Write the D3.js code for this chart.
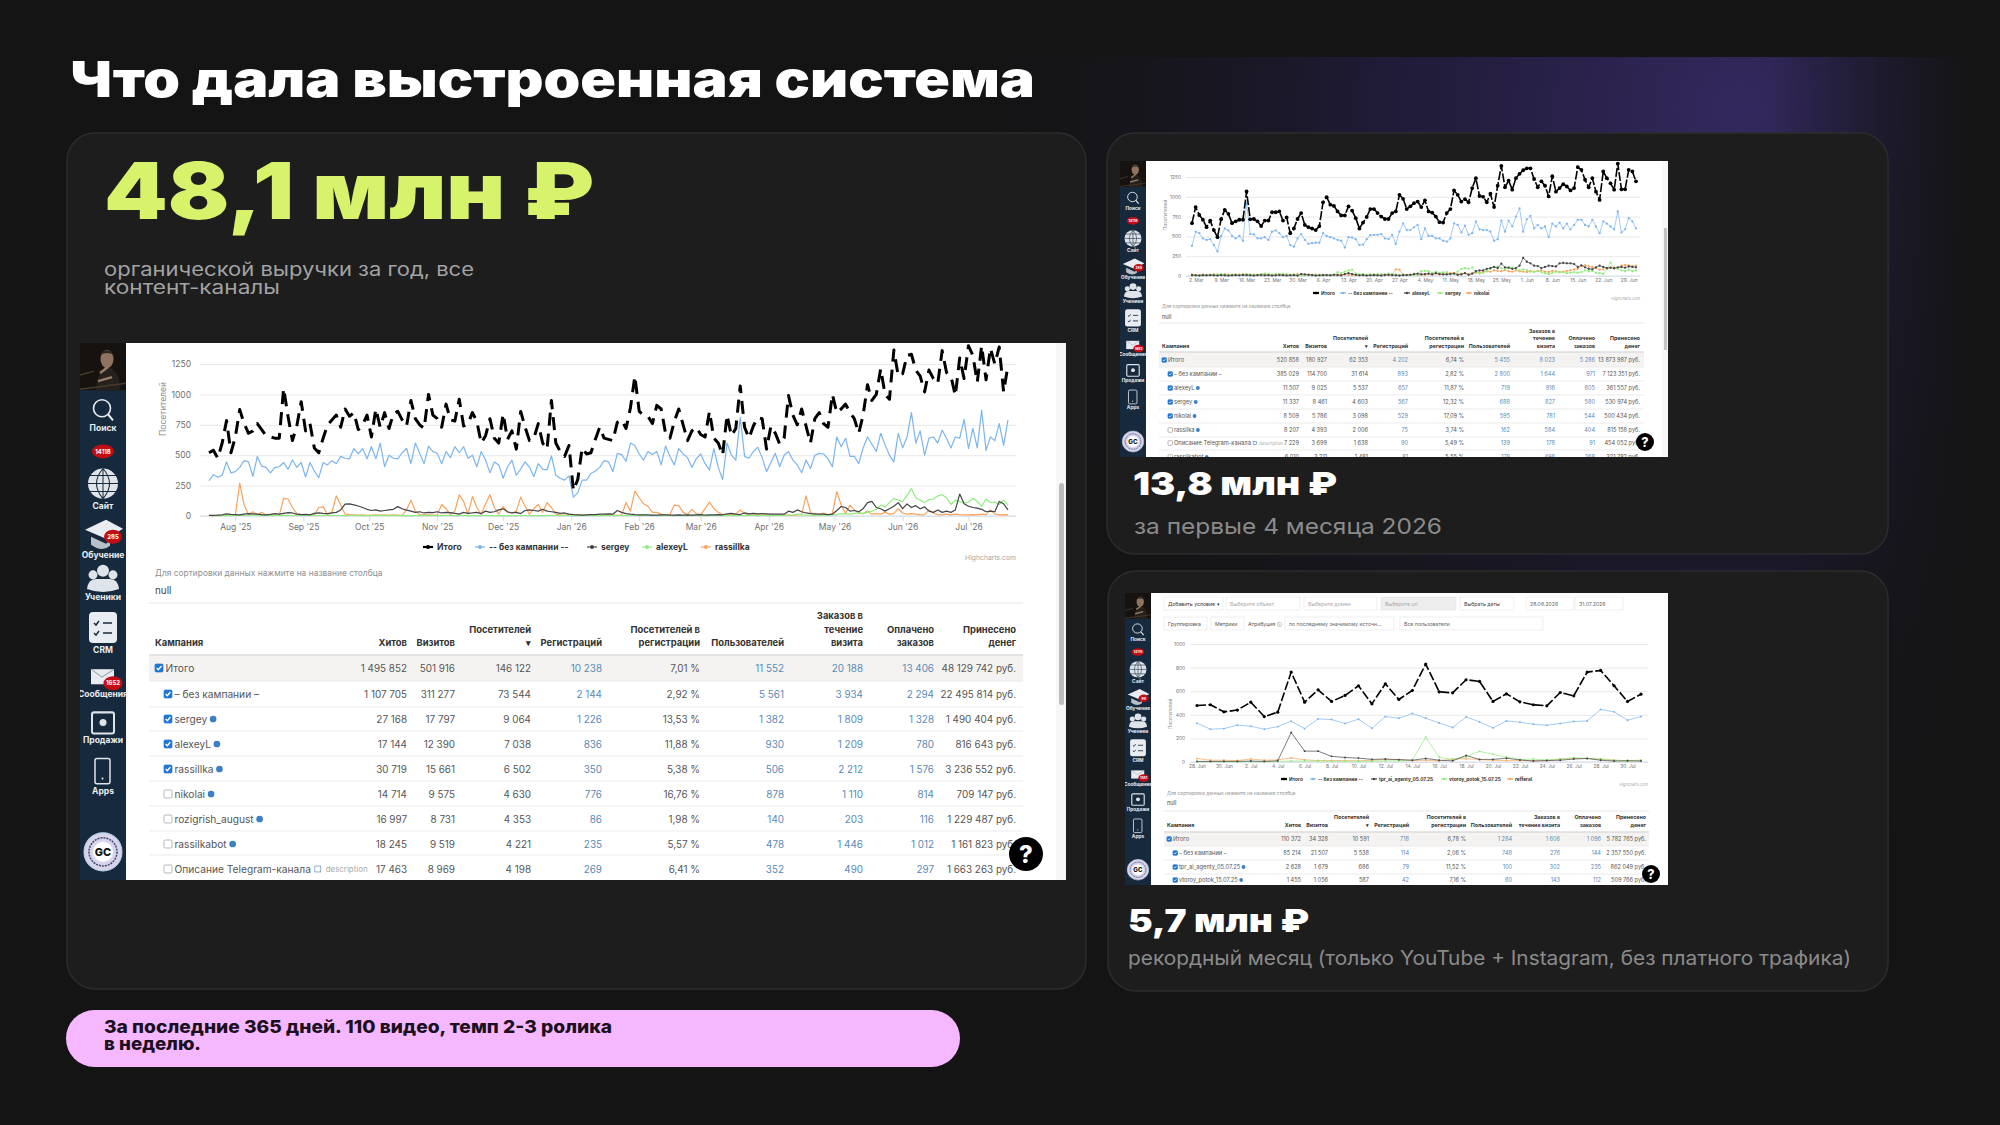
<!DOCTYPE html>
<html>
<head>
<meta charset="utf-8">
<script src="https://cdnjs.cloudflare.com/ajax/libs/d3/7.8.5/d3.min.js"></script>
<style>
html, body { margin: 0; padding: 0; background: #141415; }
svg { display: block; }
text { font-family: Inter, "Noto Sans", sans-serif; }
</style>
</head>
<body>
<svg id="slide" width="2000" height="1125"></svg>
<script>
// year chart, one value per two days from 20 Jul 2025
const yearTicks = ["2025-08-01","2025-09-01","2025-10-01","2025-11-01","2025-12-01","2026-01-01","2026-02-01","2026-03-01","2026-04-01","2026-05-01","2026-06-01","2026-07-01"];
const yearNames = ["Итого","-- без кампании --","sergey","alexeyL","rassillka"];
const yearTotal = [
  520,540,475,600,785,520,650,875,760,680,
  700,760,710,660,650,640,640,1050,820,620,
  740,940,700,760,560,520,640,750,790,830,
  730,880,820,850,710,750,830,650,880,730,
  850,720,840,860,790,740,950,800,750,720,
  1000,830,800,730,920,790,780,960,740,760,
  850,780,600,660,800,640,600,840,630,700,
  550,860,730,620,640,760,600,550,950,600,
  530,490,580,210,300,560,510,520,630,730,
  640,630,620,770,790,720,890,1150,860,830,
  820,760,910,880,680,640,780,880,750,620,
  700,730,670,650,860,640,600,500,830,660,
  720,1070,730,640,740,810,800,550,740,680,
  590,640,990,830,750,880,740,600,800,850,
  760,730,1000,850,880,920,850,800,680,830,
  1080,950,1000,1210,1000,960,1365,1150,1170,1320,
  1330,1200,1150,1020,1200,1130,1090,1360,1180,1150,
  990,1300,1130,1400,1320,1100,1400,1120,1380,1250,
  1390,1020,1240];
const yearOrganic = [
  290,340,318,335,445,355,365,400,455,445,
  325,490,410,400,355,400,405,440,385,460,
  400,440,320,440,370,315,440,420,455,430,
  490,475,470,555,510,555,470,570,470,600,
  405,500,475,470,520,555,430,600,515,430,
  575,530,515,430,530,480,570,520,570,475,
  500,405,530,460,355,445,420,310,405,460,
  335,385,445,400,325,430,385,380,495,335,
  310,295,330,155,190,295,295,350,370,400,
  455,445,365,515,505,450,600,580,510,460,
  530,505,530,420,575,490,420,555,510,480,
  400,470,510,430,380,555,400,300,600,500,
  460,810,490,475,530,565,480,365,440,515,
  405,500,530,460,420,355,460,390,500,515,
  510,470,405,650,570,640,490,490,430,560,
  650,590,530,680,585,500,445,680,560,650,
  850,600,700,500,640,650,600,705,640,560,
  650,640,795,555,720,560,870,540,650,620,
  760,580,790];
const yearSergey = [
  5,5,8,10,18,14,12,10,15,20,
  18,15,12,10,14,20,15,22,28,25,
  15,12,14,10,22,25,22,20,25,30,
  50,98,100,92,82,70,55,45,50,40,
  45,50,55,77,60,48,40,30,35,25,
  30,28,35,25,30,28,22,15,30,22,
  25,30,20,40,30,35,50,60,35,25,
  30,20,45,50,45,40,55,40,35,30,
  22,25,15,12,10,8,10,12,12,15,
  15,18,15,45,30,20,15,12,10,10,
  10,8,8,10,10,8,8,10,8,10,
  8,10,12,8,10,10,12,10,18,22,
  15,12,25,18,22,18,20,18,16,15,
  15,15,40,30,50,35,25,20,18,15,
  15,12,15,45,78,70,40,45,35,60,
  110,120,70,60,40,60,80,110,60,100,
  70,85,60,75,40,30,50,30,40,30,
  50,180,100,80,70,65,55,35,40,35,
  120,100,50];
const yearAlexey = [
  2,2,3,3,4,3,5,4,5,6,
  8,6,5,4,5,4,5,6,5,4,
  6,5,4,6,5,4,5,6,5,4,
  4,3,4,5,4,3,4,3,4,5,
  4,3,4,5,3,4,3,4,5,3,
  4,3,4,3,5,4,3,4,5,3,
  4,3,4,5,3,4,3,4,3,4,
  3,4,5,3,4,3,4,3,5,4,
  3,4,5,3,4,3,4,5,3,4,
  3,4,5,3,4,6,5,4,5,6,
  4,5,4,3,5,4,3,5,4,3,
  4,5,3,4,3,4,5,3,4,3,
  5,4,3,5,4,3,4,5,3,4,
  5,4,6,8,15,12,8,6,5,6,
  8,6,10,12,20,18,15,22,25,20,
  30,40,55,90,75,110,145,130,118,170,
  225,150,130,110,135,140,165,175,150,95,
  130,120,105,115,145,120,80,140,110,115,
  95,130,90];
const yearMailing = [
  5,3,5,8,5,5,10,270,90,10,
  35,10,30,8,10,8,6,145,140,70,
  20,12,12,10,10,70,75,12,30,165,
  90,15,12,10,8,10,6,8,10,8,
  10,8,10,8,6,50,130,40,12,10,
  10,8,8,95,60,10,40,175,120,15,
  160,70,12,100,175,70,15,80,30,25,
  40,155,80,15,60,95,30,110,70,15,
  10,8,10,12,10,8,6,5,8,8,
  8,10,8,6,10,110,40,205,150,100,
  80,30,30,15,10,12,90,85,30,12,
  55,20,10,60,115,60,30,12,10,12,
  15,50,20,10,8,10,8,10,8,6,
  8,6,8,6,10,12,165,30,10,8,
  25,10,20,200,90,20,90,50,25,20,
  40,15,20,15,30,15,20,60,25,15,
  20,15,10,12,50,25,10,12,15,10,
  15,12,10,10,12,10,15,12,50,15,
  10,12,10];

// four months chart, daily from 1 Mar 2026
const springTicks = ["2026-03-02","2026-03-09","2026-03-16","2026-03-23","2026-03-30","2026-04-06","2026-04-13","2026-04-20","2026-04-27","2026-05-04","2026-05-11","2026-05-18","2026-05-25","2026-06-01","2026-06-08","2026-06-15","2026-06-22","2026-06-29"];
const springNames = ["Итого","-- без кампании --","alexeyL","sergey","nikolai"];
const springTotal = [
  667,870,770,710,616,700,580,490,717,835,
  785,667,690,710,710,1067,715,720,690,630,
  700,700,805,805,815,700,740,540,600,720,
  795,645,616,600,580,630,930,995,900,885,
  815,765,765,880,825,730,600,675,745,845,
  845,795,750,720,720,795,815,1025,975,845,
  880,920,940,870,955,815,800,750,680,675,
  795,845,1080,1025,940,970,930,1110,1235,1010,
  1000,930,1040,870,1140,1390,1120,1205,1090,1235,
  1290,1335,1360,1360,1225,1120,1195,1140,1005,1260,
  1065,1110,1160,1130,1080,1110,1375,1340,1215,1120,
  1235,1065,960,1320,1235,1170,1090,1420,1095,1095,
  1340,1320,1195];
const springOrganic = [
  380,560,540,475,455,465,390,310,505,600,
  575,505,475,505,445,920,530,525,475,475,
  490,455,560,575,540,490,505,390,370,475,
  530,455,405,415,420,420,540,505,490,475,
  455,445,360,490,485,465,390,395,465,515,
  520,520,530,475,465,520,405,560,665,580,
  580,615,645,465,600,505,505,475,475,445,
  435,475,665,645,550,635,520,540,690,590,
  580,580,560,445,465,700,560,700,625,750,
  855,560,715,760,600,645,600,625,490,660,
  625,675,600,660,590,645,710,710,645,625,
  710,625,540,690,660,625,590,815,550,590,
  730,690,600];
const springAlexey = [
  10,8,6,10,8,12,8,6,10,8,
  6,8,10,8,12,10,8,6,10,12,
  8,10,6,8,12,10,6,8,10,6,
  25,20,15,10,6,8,10,12,8,15,
  10,8,25,35,25,15,8,10,6,8,
  10,8,6,12,15,10,8,6,10,12,
  15,25,30,20,25,30,20,35,25,20,
  20,25,30,15,20,35,15,30,60,70,
  70,90,100,115,100,155,110,105,90,100,
  130,230,180,160,130,125,100,115,130,125,
  120,160,165,160,160,150,115,135,110,90,
  85,110,130,115,100,105,95,110,115,105,
  120,115,110];
const springSergey = [
  5,8,6,10,12,15,20,18,22,15,
  12,18,15,10,18,22,20,15,12,25,
  30,22,18,25,20,28,22,15,20,12,
  10,15,12,18,10,14,10,12,15,12,
  50,35,55,70,80,30,20,25,15,20,
  18,25,20,15,30,25,20,12,10,15,
  15,10,20,60,65,60,40,55,40,45,
  50,25,30,55,90,100,90,110,50,30,
  40,60,90,110,120,100,90,105,110,95,
  70,85,75,55,50,65,50,35,25,40,
  55,45,50,35,40,50,40,50,70,60,
  65,40,35,25,85,170,100,90,70,60,
  80,60,70];
const springNikolai = [
  20,15,12,18,15,10,22,18,15,25,
  18,12,20,16,22,18,12,18,15,20,
  15,18,12,18,22,10,20,15,18,22,
  18,12,20,15,18,12,15,10,12,15,
  20,12,18,15,12,10,18,22,12,15,
  20,12,15,20,12,18,85,80,20,12,
  15,22,15,20,15,25,18,30,20,25,
  30,35,40,20,30,35,25,30,40,45,
  50,60,55,70,65,60,75,60,55,70,
  60,55,50,65,55,60,70,55,50,65,
  60,50,55,65,70,85,90,125,135,120,
  115,100,80,85,95,105,110,100,130,140,
  135,120,130];

// record month chart, daily from 28 Jun 2026
const julyTicks = ["2026-06-28","2026-06-30","2026-07-02","2026-07-04","2026-07-06","2026-07-08","2026-07-10","2026-07-12","2026-07-14","2026-07-16","2026-07-18","2026-07-20","2026-07-22","2026-07-24","2026-07-26","2026-07-28","2026-07-30"];
const julyNames = ["Итого","-- без кампании --","tpr_ai_agenty_05.07.25","vtoroy_potok_15.07.25","refferal"];
const julyTotal = [479,485,425,440,507,385,422,762,507,612,513,564,646,493,663,530,606,830,595,586,697,683,513,578,510,485,476,589,561,762,776,646,513,575];
const julyOrganic = [329,278,283,312,303,278,300,346,283,365,360,326,363,286,385,371,411,371,331,292,382,340,289,348,337,320,312,326,343,348,445,425,354,385];
const julyAgenty = [5,5,5,5,8,5,10,250,92,92,48,38,33,22,25,20,15,30,15,10,55,22,22,32,18,8,12,15,25,30,15,8,10,8];
const julyPotok = [3,3,3,3,3,3,5,8,8,8,6,6,6,6,10,10,15,210,40,22,45,90,65,40,22,25,18,25,38,30,25,15,10,12];
const julyReferral = [30,15,15,12,25,15,18,35,18,12,12,12,10,15,20,20,12,15,10,25,28,20,15,12,12,12,12,25,30,30,25,15,12,15];

// tables
const headers = [["Хитов"],["Визитов"],["Посетителей","▾"],["Регистраций"],["Посетителей в","регистрации"],["Пользователей"],["Заказов в","течение","визита"],["Оплачено","заказов"],["Принесено","денег"]];
const headersJuly = [["Хитов"],["Визитов"],["Посетителей","▾"],["Регистраций"],["Посетителей в","регистрации"],["Пользователей"],["Заказов в","течение визита"],["Оплачено","заказов"],["Принесено","денег"]];
const yearRows = [
  ["Итого","1 495 852","501 916","146 122","10 238","7,01 %","11 552","20 188","13 406","48 129 742 руб."],
  ["– без кампании –","1 107 705","311 277","73 544","2 144","2,92 %","5 561","3 934","2 294","22 495 814 руб."],
  ["sergey","27 168","17 797","9 064","1 226","13,53 %","1 382","1 809","1 328","1 490 404 руб."],
  ["alexeyL","17 144","12 390","7 038","836","11,88 %","930","1 209","780","816 643 руб."],
  ["rassillka","30 719","15 661","6 502","350","5,38 %","506","2 212","1 576","3 236 552 руб."],
  ["nikolai","14 714","9 575","4 630","776","16,76 %","878","1 110","814","709 147 руб."],
  ["rozigrish_august","16 997","8 731","4 353","86","1,98 %","140","203","116","1 229 487 руб."],
  ["rassilkabot","18 245","9 519","4 221","235","5,57 %","478","1 446","1 012","1 161 823 руб."],
  ["Описание Telegram-канала","17 463","8 969","4 198","269","6,41 %","352","490","297","1 663 263 руб."]
];
const springRows = [
  ["Итого","520 858","180 927","62 353","4 202","6,74 %","5 455","8 023","5 286","13 873 987 руб."],
  ["– без кампании –","385 029","114 700","31 614","893","2,82 %","2 800","1 644","971","7 123 351 руб."],
  ["alexeyL","11 507","9 025","5 537","657","11,87 %","719","916","605","361 557 руб."],
  ["sergey","11 337","8 461","4 603","567","12,32 %","688","827","580","530 974 руб."],
  ["nikolai","8 509","5 786","3 098","529","17,09 %","595","781","544","500 434 руб."],
  ["rassilka","8 207","4 393","2 006","75","3,74 %","162","584","404","815 158 руб."],
  ["Описание Telegram-канала","7 229","3 699","1 638","90","5,49 %","139","178","91","454 052 руб."],
  ["rassilkabot","6 010","3 211","1 481","81","5,55 %","178","496","268","321 782 руб."]
];
const julyRows = [
  ["Итого","110 372","34 328","10 591","718","6,78 %","1 284","1 606","1 096","5 782 765 руб."],
  ["– без кампании –","85 214","21 507","5 538","114","2,06 %","748","276","144","2 357 550 руб."],
  ["tpr_ai_agenty_05.07.25","2 628","1 679","686","79","11,52 %","100","302","235","862 049 руб."],
  ["vtoroy_potok_15.07.25","1 455","1 056","587","42","7,16 %","60","143","112","509 766 руб."]
];
const sidebarItems = ["Поиск","Сайт","Обучение","Ученики","CRM","Сообщения","Продажи","Apps"];

let svg = d3.select("#slide");
let defs = svg.append("defs");
let parseDay = d3.timeParse("%Y-%m-%d");
let seriesColors = ["#000000","#7cb5ec","#434348","#90ed7d","#f7a35c"];

function make_background() {
    let glow = defs.append("radialGradient").attr("id", "glow")
        .attr("gradientUnits", "userSpaceOnUse")
        .attr("cx", 1740).attr("cy", 110).attr("r", 800);
    glow.append("stop").attr("offset", 0).attr("stop-color", "#352a62").attr("stop-opacity", 0.95);
    glow.append("stop").attr("offset", 0.45).attr("stop-color", "#241d42").attr("stop-opacity", 0.75);
    glow.append("stop").attr("offset", 1).attr("stop-color", "#141415").attr("stop-opacity", 0);
    let fade = defs.append("linearGradient").attr("id", "fade");
    fade.append("stop").attr("offset", 0).attr("stop-color", "#141415").attr("stop-opacity", 0);
    fade.append("stop").attr("offset", 1).attr("stop-color", "#141415").attr("stop-opacity", 1);
    svg.append("rect").attr("width", 2000).attr("height", 1125).attr("fill", "#141415");
    svg.append("rect").attr("x", 800).attr("y", 57).attr("width", 1200).attr("height", 1068).attr("fill", "url(#glow)");
    svg.append("rect").attr("x", 1770).attr("y", 57).attr("width", 200).attr("height", 1068).attr("fill", "url(#fade)");
    svg.append("rect").attr("x", 1970).attr("y", 57).attr("width", 30).attr("height", 1068).attr("fill", "#141415");
}

function draw_text(parent, str, x, y, size, weight, color, width) {
    let t = parent.append("text").attr("x", x).attr("y", y)
        .attr("font-size", size).attr("font-weight", weight).attr("fill", color).text(str);
    if (width) t.attr("textLength", width).attr("lengthAdjust", "spacingAndGlyphs");
    return t;
}

function draw_card(x, y, w, h) {
    svg.append("rect").attr("x", x).attr("y", y).attr("width", w).attr("height", h).attr("rx", 28)
        .attr("fill", "#1d1d1e").attr("stroke", "#2c2c2e").attr("stroke-width", 1.5);
}

// sidebar is drawn once at full size, small shots use a scaled copy
function draw_sidebar(parent, x, y, sx, sy, badges) {
    let g = parent.append("g").attr("transform", `translate(${x},${y}) scale(${sx},${sy})`);
    g.append("rect").attr("width", 46).attr("height", 535).attr("fill", "#17293c");
    g.append("rect").attr("width", 46).attr("height", 47).attr("fill", "#15120f");
    g.append("path").attr("d", "M16 47 Q18 26 27 24 Q40 26 40 47 Z").attr("fill", "#26211d");
    g.append("ellipse").attr("cx", 27).attr("cy", 16).attr("rx", 6.5).attr("ry", 9).attr("fill", "#8f735f");
    g.append("path").attr("d", "M20 12 Q27 3 34 12 Q27 8 20 12 Z").attr("fill", "#2c241e");
    g.append("path").attr("d", "M20 30 L28 24 M18 38 L32 34").attr("stroke", "#9a7c66").attr("stroke-width", 2.5);
    g.append("path").attr("d", "M0 32 L14 28 M0 46 L46 40").attr("stroke", "#4a3a2c").attr("stroke-width", 1.5);
    // search
    g.append("circle").attr("cx", 22).attr("cy", 65).attr("r", 8.5).attr("fill", "none").attr("stroke", "#e8edf2").attr("stroke-width", 1.6);
    g.append("line").attr("x1", 28).attr("y1", 71).attr("x2", 33).attr("y2", 77).attr("stroke", "#e8edf2").attr("stroke-width", 2);
    // globe
    g.append("circle").attr("cx", 23).attr("cy", 140).attr("r", 15).attr("fill", "#dfe4ea");
    g.append("path").attr("d", "M8 140 H38 M10 132 H36 M10 148 H36 M23 125 V155 M23 125 Q10 140 23 155 M23 125 Q36 140 23 155")
        .attr("fill", "none").attr("stroke", "#17293c").attr("stroke-width", 1);
    // cap
    g.append("path").attr("d", "M5 186 L26 176 L43 185 L26 195 Z").attr("fill", "#e9edf1");
    g.append("path").attr("d", "M11 193 V201 Q22 209 30 202 L30 197 L26 200 Z").attr("fill", "#b9c0c7");
    // students
    g.append("circle").attr("cx", 23).attr("cy", 227).attr("r", 6).attr("fill", "#dfe4ea");
    g.append("circle").attr("cx", 13).attr("cy", 231).attr("r", 4.5).attr("fill", "#dfe4ea");
    g.append("circle").attr("cx", 33).attr("cy", 231).attr("r", 4.5).attr("fill", "#dfe4ea");
    g.append("path").attr("d", "M7 245 Q8 235 16 235 H30 Q38 235 39 245 Q23 251 7 245 Z").attr("fill", "#dfe4ea");
    // crm
    g.append("rect").attr("x", 9).attr("y", 268).attr("width", 28).attr("height", 31).attr("rx", 4).attr("fill", "#e9edf1");
    g.append("path").attr("d", "M14 279 L16 281 L19 277 M23 279 H32 M14 289 L16 291 L19 287 M23 289 H32")
        .attr("fill", "none").attr("stroke", "#17293c").attr("stroke-width", 1.5);
    // mail
    g.append("rect").attr("x", 11).attr("y", 325).attr("width", 23).attr("height", 15).attr("fill", "#e9edf1");
    g.append("path").attr("d", "M11 325 L22 333 L34 325").attr("fill", "none").attr("stroke", "#9aa4ae").attr("stroke-width", 1);
    // sales
    g.append("rect").attr("x", 12).attr("y", 368).attr("width", 22).attr("height", 21).attr("rx", 2).attr("fill", "none").attr("stroke", "#dfe4ea").attr("stroke-width", 2);
    g.append("circle").attr("cx", 23).attr("cy", 378).attr("r", 3.5).attr("fill", "#dfe4ea");
    // phone
    g.append("rect").attr("x", 15).attr("y", 414).attr("width", 15).attr("height", 25).attr("rx", 2).attr("fill", "none").attr("stroke", "#dfe4ea").attr("stroke-width", 1.5);
    g.append("circle").attr("cx", 22.5).attr("cy", 434).attr("r", 1).attr("fill", "#dfe4ea");
    // gc logo
    g.append("circle").attr("cx", 23).attr("cy", 507).attr("r", 19).attr("fill", "#d8d4ec").attr("stroke", "#b9cfe6").attr("stroke-width", 1);
    g.append("circle").attr("cx", 23).attr("cy", 507).attr("r", 14).attr("fill", "none").attr("stroke", "#3d4a6a").attr("stroke-width", 1.5).attr("stroke-dasharray", "2,1");
    g.append("circle").attr("cx", 23).attr("cy", 507).attr("r", 10).attr("fill", "#fff");
    g.append("text").attr("x", 23).attr("y", 511).attr("text-anchor", "middle").attr("font-size", 11).attr("font-weight", 800).attr("fill", "#111").text("GC");

    let labelY = [88, 165, 214, 256, 309, 353, 399, 449];
    sidebarItems.forEach((d, i) => {
        g.append("text").attr("x", 23).attr("y", labelY[i]).attr("text-anchor", "middle")
            .attr("font-size", 8.5).attr("font-weight", 700).attr("fill", "#e8edf2").text(d);
    });
    [[23, 108, badges[0], 10], [33, 193, badges[1], 8], [33, 339, badges[2], 8.5]].forEach(b => {
        g.append("ellipse").attr("cx", b[0]).attr("cy", b[1]).attr("rx", b[3] + 1).attr("ry", 7).attr("fill", "#c40d13");
        g.append("text").attr("x", b[0]).attr("y", b[1] + 2.2).attr("text-anchor", "middle")
            .attr("font-size", 6).attr("font-weight", 700).attr("fill", "#fff").text(b[2]);
    });
}

function draw_chart(parent, cfg) {
    let x = d3.scaleTime().domain(d3.extent(cfg.dates)).range(cfg.xRange);
    let y = d3.scaleLinear().domain([0, cfg.yMax]).range(cfg.yRange);

    let yAxis = d3.axisLeft(y).tickValues(cfg.yTicks).tickSize(0).tickPadding(cfg.yPad).tickFormat(d3.format("d"));
    let yg = parent.append("g").attr("transform", `translate(${cfg.gridX[0]},0)`).call(yAxis);
    yg.select(".domain").remove();
    yg.selectAll("text").attr("font-size", cfg.font).attr("fill", "#6f6f6f").style("font-family", "Inter");
    yg.selectAll(".tick").append("line").attr("x2", cfg.gridX[1] - cfg.gridX[0]).attr("stroke", "#e9e9e9").attr("stroke-width", 1);

    let xAxis = d3.axisBottom(x).tickValues(cfg.ticks.map(parseDay)).tickFormat(d3.timeFormat(cfg.tickFormat))
        .tickSizeOuter(0).tickSize(cfg.tickLen).tickPadding(cfg.xPad);
    let xg = parent.append("g").attr("transform", `translate(0,${cfg.yRange[0]})`).call(xAxis);
    xg.select(".domain").attr("d", `M${cfg.gridX[0]},0H${cfg.gridX[1]}`).attr("stroke", "#d3dceb");
    xg.selectAll("line").attr("stroke", "#d3dceb");
    xg.selectAll("text").attr("font-size", cfg.font).attr("fill", "#6f6f6f").style("font-family", "Inter");

    parent.append("text")
        .attr("transform", `translate(${cfg.titleX},${cfg.titleY}) rotate(-90)`)
        .attr("text-anchor", "middle").attr("font-size", cfg.font).attr("fill", "#8a8a8a").text("Посетителей");

    let line = d3.line().x((d, i) => x(cfg.dates[i])).y(d => y(d));
    // black line goes on top, it is the thick one
    let order = [4, 3, 2, 1, 0];
    order.forEach(s => {
        let black = s === 0;
        parent.append("path").attr("d", line(cfg.series[s])).attr("fill", "none")
            .attr("stroke", seriesColors[s]).attr("stroke-linejoin", "round")
            .attr("stroke-width", black ? cfg.blackWidth : cfg.thinWidth)
            .attr("stroke-dasharray", black ? cfg.blackDash : null);
        if (cfg.marker) {
            parent.append("g").selectAll("circle").data(cfg.series[s]).enter().append("circle")
                .attr("cx", (d, i) => x(cfg.dates[i])).attr("cy", d => y(d))
                .attr("r", black ? cfg.marker : cfg.marker * 0.6).attr("fill", seriesColors[s]);
        }
    });

    cfg.names.forEach((name, i) => {
        let sx = cfg.legendX[i];
        let ly = cfg.legendY;
        parent.append("line").attr("x1", sx).attr("x2", sx + cfg.legendSym).attr("y1", ly).attr("y2", ly)
            .attr("stroke", seriesColors[i]).attr("stroke-width", i === 0 ? 2.2 : 1.2);
        parent.append("circle").attr("cx", sx + cfg.legendSym / 2).attr("cy", ly).attr("r", cfg.legendSym / 5).attr("fill", seriesColors[i]);
        parent.append("text").attr("x", sx + cfg.legendSym + cfg.legendGap).attr("y", ly + cfg.font * 0.35)
            .attr("font-size", cfg.font).attr("font-weight", 700).attr("fill", "#333").text(name);
    });

    parent.append("text").attr("x", cfg.gridX[1]).attr("y", cfg.legendY + cfg.creditDy).attr("text-anchor", "end")
        .attr("font-size", cfg.font * 0.8).attr("fill", "#a6a6a6").text("Highcharts.com");
}

function draw_table(parent, cfg) {
    let f = cfg.font;
    parent.append("text").attr("x", cfg.nameX).attr("y", cfg.hintY).attr("font-size", f * 0.85).attr("fill", "#8f8f8f")
        .text("Для сортировки данных нажмите на название столбца");
    parent.append("text").attr("x", cfg.nameX).attr("y", cfg.nullY).attr("font-size", f).attr("fill", "#444").text("null");
    parent.append("line").attr("x1", cfg.x0).attr("x2", cfg.x1).attr("y1", cfg.topY).attr("y2", cfg.topY).attr("stroke", "#e6e6e6");

    parent.append("rect").attr("x", cfg.x0).attr("y", cfg.headY).attr("width", cfg.x1 - cfg.x0)
        .attr("height", cfg.rowLines[0] - cfg.headY).attr("fill", "#f5f3f1");
    parent.append("line").attr("x1", cfg.x0).attr("x2", cfg.x1).attr("y1", cfg.headY).attr("y2", cfg.headY)
        .attr("stroke", "#dcdcdc").attr("stroke-width", 1.5);
    parent.append("text").attr("x", cfg.nameX).attr("y", cfg.headBase).attr("font-size", f * 0.95).attr("font-weight", 700)
        .attr("fill", "#333").text("Кампания");

    cfg.headers.forEach((lines, c) => {
        lines.forEach((str, k) => {
            parent.append("text").attr("x", cfg.cols[c]).attr("y", cfg.headBase - (lines.length - 1 - k) * cfg.headStep)
                .attr("text-anchor", "end").attr("font-size", f * 0.95).attr("font-weight", 700).attr("fill", "#333").text(str);
        });
    });

    cfg.rowLines.forEach(ly => {
        parent.append("line").attr("x1", cfg.x0).attr("x2", cfg.x1).attr("y1", ly).attr("y2", ly).attr("stroke", "#ebebeb");
    });

    // columns with links: registrations, users, orders, paid
    let blueCols = [3, 5, 6, 7];
    cfg.rows.forEach((row, r) => {
        let ry = cfg.rowY[r];
        let bx = r === 0 ? cfg.nameX : cfg.nameX + cfg.indent;
        let on = r < cfg.checked;
        parent.append("rect").attr("x", bx).attr("y", ry - cfg.box / 2).attr("width", cfg.box).attr("height", cfg.box)
            .attr("rx", cfg.box * 0.15).attr("fill", on ? "#1f76d2" : "#fff").attr("stroke", on ? "#1f76d2" : "#9a9a9a").attr("stroke-width", 0.7);
        if (on) {
            let b = cfg.box;
            parent.append("path").attr("d", `M${bx + b * .2} ${ry} L${bx + b * .42} ${ry + b * .22} L${bx + b * .8} ${ry - b * .25}`)
                .attr("fill", "none").attr("stroke", "#fff").attr("stroke-width", b * 0.16);
        }
        let nx = bx + cfg.box + f * 0.25;
        let name = parent.append("text").attr("x", nx).attr("y", ry + f * 0.36).attr("font-size", f * 1.03)
            .attr("fill", "#555").text(row[0]);
        if (r >= 2) {
            let end = nx + name.node().getComputedTextLength();
            if (row[0].startsWith("Описание")) {
                parent.append("rect").attr("x", end + f * 0.4).attr("y", ry - f * 0.3).attr("width", f * 0.6).attr("height", f * 0.6)
                    .attr("fill", "none").attr("stroke", "#4f81ad").attr("stroke-width", 0.6);
                parent.append("text").attr("x", end + f * 1.5).attr("y", ry + f * 0.34).attr("font-size", f * 0.8)
                    .attr("fill", "#a9a9a9").text("description");
            } else {
                parent.append("circle").attr("cx", end + f * 0.6).attr("cy", ry).attr("r", f * 0.34).attr("fill", "#3d7fc4");
            }
        }
        cfg.cols.forEach((cx, c) => {
            parent.append("text").attr("x", cx).attr("y", ry + f * 0.36).attr("text-anchor", "end").attr("font-size", f)
                .attr("fill", blueCols.includes(c) ? "#5a8ab5" : "#555").text(row[c + 1]);
        });
    });
}

function draw_help(parent, cx, cy, r) {
    parent.append("circle").attr("cx", cx).attr("cy", cy).attr("r", r).attr("fill", "#000");
    parent.append("text").attr("x", cx).attr("y", cy + r * 0.5).attr("text-anchor", "middle")
        .attr("font-size", r * 1.4).attr("font-weight", 800).attr("fill", "#fff").text("?");
}

function make_shot(id, x, y, w, h) {
    defs.append("clipPath").attr("id", id).append("rect").attr("x", x).attr("y", y).attr("width", w).attr("height", h);
    let g = svg.append("g").attr("clip-path", `url(#${id})`);
    g.append("rect").attr("x", x).attr("y", y).attr("width", w).attr("height", h).attr("fill", "#fff");
    return g;
}

function year_shot() {
    let g = make_shot("shot1", 80, 343, 986, 537);
    draw_sidebar(g, 80, 343, 1, 537 / 535, ["14118", "285", "1652"]);
    g.append("rect").attr("x", 1056).attr("y", 343).attr("width", 10).attr("height", 537).attr("fill", "#f7f7f7");
    g.append("rect").attr("x", 1059).attr("y", 483).attr("width", 5).attr("height", 222).attr("rx", 2.5).attr("fill", "#bdbdbd");
    draw_chart(g, {
        dates: yearTotal.map((d, i) => d3.timeDay.offset(new Date(2025, 6, 20), i * 2)),
        series: [yearTotal, yearOrganic, yearSergey, yearAlexey, yearMailing],
        names: yearNames, ticks: yearTicks, tickFormat: "%b '%y",
        xRange: [209, 1008], yRange: [516, 364], yMax: 1250, yTicks: [0, 250, 500, 750, 1000, 1250],
        gridX: [200, 1016], font: 8.5, yPad: 9, xPad: 3, tickLen: 5, titleX: 166, titleY: 409,
        blackWidth: 3, thinWidth: 1.2, blackDash: "13,8",
        legendX: [423, 475, 587, 642, 701], legendY: 547, legendSym: 10, legendGap: 4, creditDy: 13
    });
    draw_table(g, {
        x0: 149, x1: 1023, nameX: 155, indent: 9, font: 9.9, box: 8,
        hintY: 576, nullY: 594, topY: 603, headY: 655, headBase: 646, headStep: 13.5,
        cols: [407, 455, 531, 602, 700, 784, 863, 934, 1016], headers: headers, rows: yearRows, checked: 5,
        rowY: [668, 694, 719, 744, 769, 794, 819, 844, 869],
        rowLines: [681, 707, 731, 756, 781, 806, 831, 855]
    });
    draw_help(g, 1026, 854, 17);
}

function spring_shot() {
    let g = make_shot("shot2", 1120, 161, 548, 296);
    draw_sidebar(g, 1120, 161, 26 / 46, 296 / 535, ["14118", "285", "1652"]);
    g.append("rect").attr("x", 1662).attr("y", 161).attr("width", 6).attr("height", 296).attr("fill", "#f7f7f7");
    g.append("rect").attr("x", 1664).attr("y", 228).attr("width", 3).attr("height", 122).attr("fill", "#c4c4c4");
    draw_chart(g, {
        dates: springTotal.map((d, i) => d3.timeDay.offset(new Date(2026, 2, 1), i)),
        series: [springTotal, springOrganic, springAlexey, springSergey, springNikolai],
        names: springNames, ticks: springTicks, tickFormat: "%-d. %b",
        xRange: [1192, 1636], yRange: [276, 177], yMax: 1250, yTicks: [0, 250, 500, 750, 1000, 1250],
        gridX: [1186, 1640], font: 4.8, yPad: 5, xPad: 2, tickLen: 1, titleX: 1167, titleY: 215,
        blackWidth: 1.6, thinWidth: 0.7, blackDash: "9,2", marker: 1.9,
        legendX: [1313, 1340, 1404, 1437, 1466], legendY: 293, legendSym: 6, legendGap: 2, creditDy: 7
    });
    draw_table(g, {
        x0: 1159, x1: 1644, nameX: 1162, indent: 6, font: 5.6, box: 4.5,
        hintY: 308, nullY: 319, topY: 323, headY: 352, headBase: 347.5, headStep: 7.5,
        cols: [1299, 1327, 1368, 1408, 1464, 1510, 1555, 1595, 1640], headers: headers, rows: springRows, checked: 5,
        rowY: [360, 374, 388, 402, 416, 430, 443, 457],
        rowLines: [367, 381, 395, 409, 423, 437, 450]
    });
    draw_help(g, 1645, 442, 9);
}

function draw_controls(g) {
    let row1 = [[1164, 1223, "Добавить условие ▾", "#333", "#fff"], [1226, 1300, "Выберите объект", "#aaa", "#fff"], [1304, 1377, "Выберите домен", "#aaa", "#fff"],
        [1381, 1456, "Выберите url", "#aaa", "#eee"], [1460, 1514, "Выбрать даты", "#444", "#fff"], [1526, 1574, "28.06.2026", "#666", "#fff"], [1575, 1623, "31.07.2026", "#666", "#fff"]];
    let row2 = [[1164, 1207, "Группировка", "#555", "#fff"], [1211, 1244, "Метрики", "#555", "#fff"], [1285, 1394, "по последнему значимому источн...", "#666", "#fff"], [1400, 1543, "Все пользователи", "#666", "#fff"]];
    [[row1, 597], [row2, 617]].forEach(([row, top]) => {
        row.forEach(b => {
            g.append("rect").attr("x", b[0]).attr("y", top).attr("width", b[1] - b[0]).attr("height", 13)
                .attr("fill", b[4]).attr("stroke", "#e3e3e3").attr("stroke-width", 0.6);
            g.append("text").attr("x", b[0] + 4).attr("y", top + 8.7).attr("font-size", 5.2).attr("fill", b[3]).text(b[2]);
        });
    });
    g.append("text").attr("x", 1248).attr("y", 625.7).attr("font-size", 5.2).attr("fill", "#555").text("Атрибуция ⓘ");
}

function july_shot() {
    let g = make_shot("shot3", 1125, 593, 543, 292);
    draw_sidebar(g, 1125, 593, 26 / 46, 292 / 535, ["14118", "98", "1581"]);
    draw_controls(g);
    draw_chart(g, {
        dates: julyTotal.map((d, i) => d3.timeDay.offset(new Date(2026, 5, 28), i)),
        series: [julyTotal, julyOrganic, julyAgenty, julyPotok, julyReferral],
        names: julyNames, ticks: julyTicks, tickFormat: "%-d. %b",
        xRange: [1197, 1641], yRange: [762, 644], yMax: 1000, yTicks: [0, 200, 400, 600, 800, 1000],
        gridX: [1190, 1648], font: 4.8, yPad: 5, xPad: 2, tickLen: 1, titleX: 1172, titleY: 714,
        blackWidth: 1.6, thinWidth: 0.7, blackDash: "9,2.5", marker: 1.6,
        legendX: [1281, 1310, 1371, 1441, 1507], legendY: 779, legendSym: 6, legendGap: 2, creditDy: 7
    });
    draw_table(g, {
        x0: 1164, x1: 1649, nameX: 1167, indent: 6, font: 5.6, box: 4.5,
        hintY: 794.5, nullY: 805, topY: 811, headY: 832, headBase: 826.5, headStep: 7.5,
        cols: [1301, 1328, 1369, 1409, 1466, 1512, 1560, 1601, 1646], headers: headersJuly, rows: julyRows, checked: 4,
        rowY: [839, 853, 867, 880],
        rowLines: [846, 860, 874]
    });
    draw_help(g, 1651, 874, 9);
}

function draw_headlines() {
    draw_text(svg, "Что дала выстроенная система", 70, 97, 50, 900, "#ffffff", 965);
    draw_text(svg, "48,1 млн ₽", 104, 219, 78, 900, "#d6f36b", 490);
    draw_text(svg, "органической выручки за год, все", 104, 276, 18.5, 400, "#a3a3a3", 370);
    draw_text(svg, "контент-каналы", 104, 294, 18.5, 400, "#a3a3a3", 176);
    draw_text(svg, "13,8 млн ₽", 1133, 495, 32, 900, "#ffffff", 204);
    draw_text(svg, "за первые 4 месяца 2026", 1134, 534, 22, 400, "#8b8b8b", 308);
    draw_text(svg, "5,7 млн ₽", 1128, 932, 32, 900, "#ffffff", 181);
    draw_text(svg, "рекордный месяц (только YouTube + Instagram, без платного трафика)", 1128, 965, 20, 400, "#8b8b8b", 723);

    svg.append("rect").attr("x", 66).attr("y", 1010).attr("width", 894).attr("height", 57).attr("rx", 28.5).attr("fill", "#f5b8ff");
    draw_text(svg, "За последние 365 дней. 110 видео, темп 2-3 ролика", 104, 1033, 17.5, 800, "#1c1020", 508);
    draw_text(svg, "в неделю.", 104, 1050, 17.5, 800, "#1c1020", 97);
}

make_background();
draw_card(67, 133, 1019, 856);
draw_card(1107, 133, 781, 421);
draw_card(1108, 571, 780, 420);
draw_headlines();
year_shot();
spring_shot();
july_shot();
</script>
</body>
</html>
